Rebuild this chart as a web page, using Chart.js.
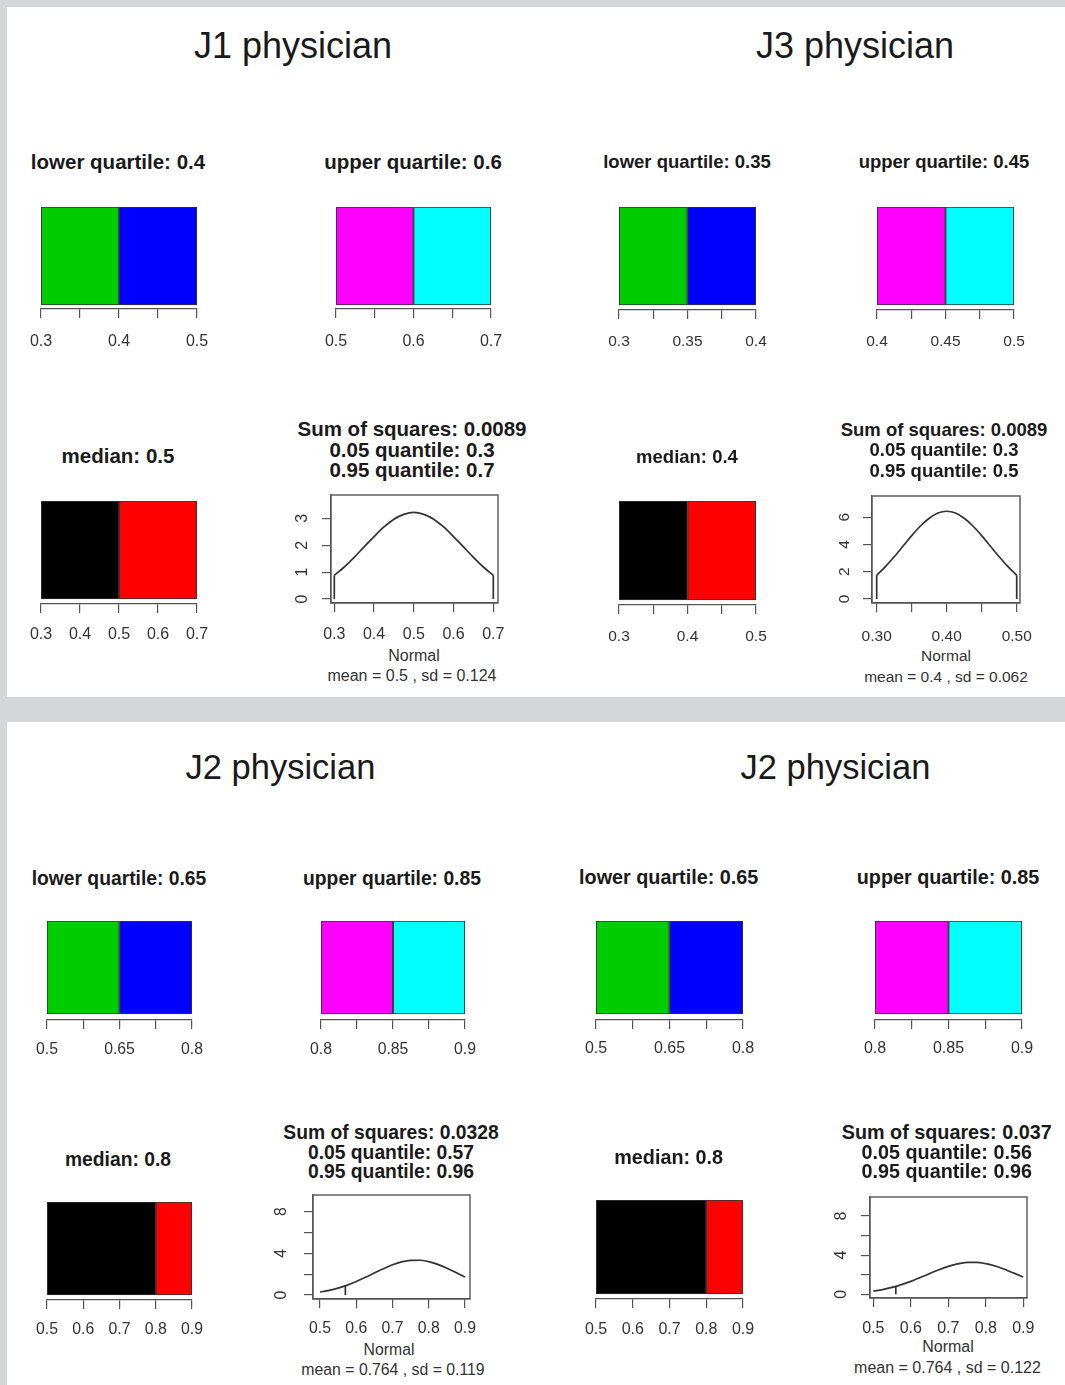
<!DOCTYPE html>
<html>
<head>
<meta charset="utf-8">
<script src="https://cdn.jsdelivr.net/npm/chart.js@4.4.1/dist/chart.umd.min.js"></script>
<style>
html, body { margin: 0; padding: 0; }
body { width: 1065px; height: 1385px; background: #d5d6d8; position: relative; overflow: hidden;
       font-family: 'Liberation Sans', Arial, Helvetica, sans-serif; }
.panel { position: absolute; background: #ffffff; }
.t { position: absolute; white-space: nowrap; text-align: center; line-height: 1; width: 600px; }
canvas { position: absolute; }
</style>
</head>
<body>
<div class="panel" style="left:7px;top:7px;width:1058px;height:690px"></div>
<div class="panel" style="left:7px;top:722px;width:1058px;height:663px"></div>
<script>
// ---------------- DATA ----------------
const physicians     = ['J1 physician', 'J3 physician', 'J2 physician', 'J2 physician'];
const lowerQuartile  = [0.4, 0.35, 0.65, 0.65];
const upperQuartile  = [0.6, 0.45, 0.85, 0.85];
const medians        = [0.5, 0.4, 0.8, 0.8];
const sumOfSquares   = ['0.0089', '0.0089', '0.0328', '0.037'];
const quantile05     = [0.3, 0.3, 0.57, 0.56];
const quantile95     = [0.7, 0.5, 0.96, 0.96];
const fitMeans       = ['0.5', '0.4', '0.764', '0.764'];
const fitSds         = ['0.124', '0.062', '0.119', '0.122'];

// bar segments: [start, split, end]
const lowerSegments  = [[0.3, 0.4, 0.5], [0.3, 0.35, 0.4], [0.5, 0.65, 0.8], [0.5, 0.65, 0.8]];
const upperSegments  = [[0.5, 0.6, 0.7], [0.4, 0.45, 0.5], [0.8, 0.85, 0.9], [0.8, 0.85, 0.9]];
const medianSegments = [[0.3, 0.5, 0.7], [0.3, 0.4, 0.5], [0.5, 0.8, 0.9], [0.5, 0.8, 0.9]];

// tick values / labels
const lowerTicks  = [[0.3, 0.35, 0.4, 0.45, 0.5], [0.3, 0.325, 0.35, 0.375, 0.4], [0.5, 0.575, 0.65, 0.725, 0.8], [0.5, 0.575, 0.65, 0.725, 0.8]];
const lowerLabels = [['0.3', '', '0.4', '', '0.5'], ['0.3', '', '0.35', '', '0.4'], ['0.5', '', '0.65', '', '0.8'], ['0.5', '', '0.65', '', '0.8']];
const upperTicks  = [[0.5, 0.55, 0.6, 0.65, 0.7], [0.4, 0.425, 0.45, 0.475, 0.5], [0.8, 0.825, 0.85, 0.875, 0.9], [0.8, 0.825, 0.85, 0.875, 0.9]];
const upperLabels = [['0.5', '', '0.6', '', '0.7'], ['0.4', '', '0.45', '', '0.5'], ['0.8', '', '0.85', '', '0.9'], ['0.8', '', '0.85', '', '0.9']];
const medianTicks  = [[0.3, 0.4, 0.5, 0.6, 0.7], [0.3, 0.35, 0.4, 0.45, 0.5], [0.5, 0.6, 0.7, 0.8, 0.9], [0.5, 0.6, 0.7, 0.8, 0.9]];
const medianLabels = [['0.3', '0.4', '0.5', '0.6', '0.7'], ['0.3', '', '0.4', '', '0.5'], ['0.5', '0.6', '0.7', '0.8', '0.9'], ['0.5', '0.6', '0.7', '0.8', '0.9']];
const densXTicks  = [[0.3, 0.4, 0.5, 0.6, 0.7], [0.3, 0.35, 0.4, 0.45, 0.5], [0.5, 0.6, 0.7, 0.8, 0.9], [0.5, 0.6, 0.7, 0.8, 0.9]];
const densXLabels = [['0.3', '0.4', '0.5', '0.6', '0.7'], ['0.30', '', '0.40', '', '0.50'], ['0.5', '0.6', '0.7', '0.8', '0.9'], ['0.5', '0.6', '0.7', '0.8', '0.9']];
const densYTicks  = [[0, 1, 2, 3], [0, 2, 4, 6], [0, 2, 4, 6, 8], [0, 2, 4, 6, 8]];
const densYLabels = [['0', '1', '2', '3'], ['0', '2', '4', '6'], ['0', '', '4', '', '8'], ['0', '', '4', '', '8']];

// fitted density curves
const densJ1x  = [0.3, 0.325, 0.35, 0.375, 0.4, 0.425, 0.45, 0.475, 0.5, 0.525, 0.55, 0.575, 0.6, 0.625, 0.65, 0.675, 0.7];
const densJ1y  = [0.88, 1.19, 1.55, 1.94, 2.32, 2.68, 2.97, 3.15, 3.22, 3.15, 2.97, 2.68, 2.32, 1.94, 1.55, 1.19, 0.88];
const densJ3x  = [0.3, 0.3125, 0.325, 0.3375, 0.35, 0.3625, 0.375, 0.3875, 0.4, 0.4125, 0.425, 0.4375, 0.45, 0.4625, 0.475, 0.4875, 0.5];
const densJ3y  = [1.75, 2.38, 3.10, 3.87, 4.65, 5.36, 5.93, 6.31, 6.44, 6.31, 5.93, 5.36, 4.65, 3.87, 3.10, 2.38, 1.75];
const densJ2ax = [0.5, 0.525, 0.55, 0.575, 0.6, 0.625, 0.65, 0.675, 0.7, 0.725, 0.75, 0.775, 0.8, 0.825, 0.85, 0.875, 0.9];
const densJ2ay = [0.29, 0.45, 0.67, 0.95, 1.30, 1.70, 2.12, 2.53, 2.90, 3.18, 3.33, 3.34, 3.20, 2.94, 2.58, 2.17, 1.74];
const densJ2bx = [0.5, 0.525, 0.55, 0.575, 0.6, 0.625, 0.65, 0.675, 0.7, 0.725, 0.75, 0.775, 0.8, 0.825, 0.85, 0.875, 0.9];
const densJ2by = [0.32, 0.48, 0.70, 0.99, 1.32, 1.71, 2.11, 2.51, 2.85, 3.11, 3.25, 3.26, 3.13, 2.89, 2.55, 2.16, 1.76];
const densX = [densJ1x, densJ3x, densJ2ax, densJ2bx];
const densY = [densJ1y, densJ3y, densJ2ay, densJ2by];
// quantile marker segments (x position, density height) visible in each plot
const markerX = [[0.3, 0.7], [0.3, 0.5], [0.57], [0.56]];
const markerY = [[0.88, 0.88], [1.75, 1.75], [0.89], [0.81]];

const lowerColors  = ['#00CD00', '#0000FF'];
const upperColors  = ['#FF00FF', '#00FFFF'];
const medianColors = ['#000000', '#FF0000'];

// ---------------- LAYOUT (page pixels) ----------------
const LAYOUT = [
  { big: {cx: 293, base: 58, fs: 36}, subFs: 20.5, tickFs: 16,
    lq: {cx: 118, base: 169, box: [41, 207, 197, 305], axisY: 309, labBase: 346.5},
    uq: {cx: 413, base: 169, box: [336, 207, 491, 305], axisY: 309, labBase: 346.5},
    md: {cx: 118, base: 463.5, box: [41, 501, 197, 599], axisY: 604, labBase: 640},
    ss: {cx: 412, bases: [436.5, 457, 477.5]},
    nm: {frame: [331, 495, 498, 603], xr: [0.2917, 0.7118], yr: [-0.15, 3.87], xlabBase: 640, ylabCx: 302.7,
         normal: {cx: 414, base: 661.5}, mean: {cx: 412, base: 682}} },
  { big: {cx: 855, base: 58, fs: 36}, subFs: 18.5, tickFs: 15.5,
    lq: {cx: 687, base: 169, box: [619, 207, 756, 305], axisY: 310, labBase: 346.7},
    uq: {cx: 944, base: 169, box: [877, 207, 1014, 305], axisY: 310, labBase: 346.7},
    md: {cx: 687, base: 464, box: [619, 501, 756, 600], axisY: 605, labBase: 641.7},
    ss: {cx: 944, bases: [436.5, 457, 477.5]},
    nm: {frame: [872, 496, 1020, 603], xr: [0.2933, 0.5047], yr: [-0.29, 7.56], xlabBase: 641.5, ylabCx: 845,
         normal: {cx: 946, base: 661.5}, mean: {cx: 946, base: 682}} },
  { big: {cx: 280.5, base: 779, fs: 34.5}, subFs: 19.3, tickFs: 15.8,
    lq: {cx: 119, base: 885, box: [47, 921, 192, 1014], axisY: 1020, labBase: 1054.3},
    uq: {cx: 392, base: 885, box: [321, 921, 465, 1014], axisY: 1020, labBase: 1054.3},
    md: {cx: 118, base: 1166, box: [47, 1202, 192, 1295], axisY: 1300, labBase: 1335},
    ss: {cx: 391, bases: [1139.5, 1159, 1178.5]},
    nm: {frame: [313, 1195, 470, 1299], xr: [0.4807, 0.9138], yr: [-0.38, 9.6], xlabBase: 1334, ylabCx: 281.7,
         normal: {cx: 389, base: 1355}, mean: {cx: 393, base: 1375}} },
  { big: {cx: 835.5, base: 779, fs: 34.5}, subFs: 19.8, tickFs: 16,
    lq: {cx: 668.7, base: 885, box: [596, 921, 743, 1014], axisY: 1020, labBase: 1054},
    uq: {cx: 948, base: 885, box: [875, 921, 1022, 1014], axisY: 1020, labBase: 1054},
    md: {cx: 668.7, base: 1165, box: [596, 1200, 743, 1294], axisY: 1299, labBase: 1334.3},
    ss: {cx: 946.7, bases: [1140, 1159.3, 1178.3]},
    nm: {frame: [870, 1197, 1027, 1298], xr: [0.4912, 0.9099], yr: [-0.38, 9.94], xlabBase: 1334, ylabCx: 841.7,
         normal: {cx: 948, base: 1352.5}, mean: {cx: 947.5, base: 1373.5}} }
];

const FONT = "'Liberation Sans', Arial, Helvetica, sans-serif";
const TICK_COLOR = '#333';
const AXIS_COLOR = '#555';

function addText(str, cx, base, fs, bold, color) {
  const d = document.createElement('div');
  d.className = 't';
  d.textContent = str;
  d.style.fontSize = fs + 'px';
  d.style.fontWeight = bold ? 'bold' : 'normal';
  d.style.color = color;
  d.style.left = (cx - 300) + 'px';
  d.style.top = (base - 0.8465 * fs) + 'px';
  document.body.appendChild(d);
}

function makeCanvas(left, top, w, h) {
  const cv = document.createElement('canvas');
  cv.width = w; cv.height = h;
  cv.style.left = left + 'px'; cv.style.top = top + 'px';
  cv.style.width = w + 'px'; cv.style.height = h + 'px';
  document.body.appendChild(cv);
  return cv;
}

function barChart(cfg, segs, colors, ticks, labels, fs) {
  const [x0, y0, x1, y1] = cfg.box;
  const padL = 36, padR = 36, padT = 2, axisH = 52, tl = 9;
  const boxH = y1 - y0, gap = cfg.axisY - y1;
  const W = (x1 - x0) + padL + padR, H = padT + boxH + gap + axisH;
  const cv = makeCanvas(x0 - padL, y0 - padT, W, H);
  const pad = cfg.labBase - cfg.axisY - tl - 0.91 * fs;
  const common = {grouped: false, barThickness: boxH, borderColor: '#333', borderWidth: 1.2, borderSkipped: false};
  new Chart(cv, {
    type: 'bar',
    data: { datasets: [
      Object.assign({data: [{x: [segs[0], segs[1]], y: 0}], backgroundColor: colors[0]}, common),
      Object.assign({data: [{x: [segs[1], segs[2]], y: 0}], backgroundColor: colors[1]}, common)
    ]},
    options: {
      indexAxis: 'y', responsive: false, animation: false, events: [],
      layout: {padding: {left: padL, right: padR, top: padT, bottom: 0}},
      plugins: {legend: {display: false}, tooltip: {enabled: false}},
      scales: {
        x: { type: 'linear', min: ticks[0], max: ticks[ticks.length - 1],
             afterBuildTicks: s => { s.ticks = ticks.map(v => ({value: v})); },
             afterFit: s => { s.height = axisH; },
             ticks: { callback: (v, i) => labels[i], autoSkip: false, maxRotation: 0, minRotation: 0,
                      padding: pad, color: TICK_COLOR, font: {family: FONT, size: fs} },
             grid: { drawOnChartArea: false, drawTicks: true, tickLength: tl, color: AXIS_COLOR, lineWidth: 1.2 },
             border: { display: true, color: AXIS_COLOR, width: 1.2 } },
        y: { type: 'linear', display: false, offset: false, min: -0.5 - gap / boxH, max: 0.5 }
      }
    }
  });
}

const framePlugin = {
  id: 'frame',
  afterDatasetsDraw(chart) {
    const {ctx, chartArea: a} = chart;
    ctx.save();
    ctx.strokeStyle = '#555';
    ctx.lineWidth = 1.4;
    ctx.strokeRect(a.left, a.top, a.right - a.left, a.bottom - a.top);
    ctx.restore();
  }
};

function densityChart(cfg, xs, ys, mxs, mys, xt, xl, yt, yl, fs) {
  const [x0, y0, x1, y1] = cfg.frame;
  const yAxisW = 50, padT = 30, padR = 30, axisH = 52, tl = 9;
  const W = yAxisW + (x1 - x0) + padR, H = padT + (y1 - y0) + axisH;
  const cv = makeCanvas(x0 - yAxisW, y0 - padT, W, H);
  const xpad = cfg.xlabBase - y1 - tl - 0.91 * fs;
  const ypad = (x0 - cfg.ylabCx) - tl - 0.556 * fs / 2;
  const datasets = [{
    data: xs.map((x, i) => ({x: x, y: ys[i]})), showLine: true, pointRadius: 0,
    borderColor: '#333', borderWidth: 1.7, cubicInterpolationMode: 'monotone'
  }];
  mxs.forEach((mx, i) => datasets.push({
    data: [{x: mx, y: 0}, {x: mx, y: mys[i]}], showLine: true, pointRadius: 0,
    borderColor: '#333', borderWidth: 1.7
  }));
  new Chart(cv, {
    type: 'scatter',
    data: { datasets },
    plugins: [framePlugin],
    options: {
      responsive: false, animation: false, events: [],
      layout: {padding: {left: 0, right: padR, top: padT, bottom: 0}},
      plugins: {legend: {display: false}, tooltip: {enabled: false}},
      scales: {
        x: { type: 'linear', min: cfg.xr[0], max: cfg.xr[1],
             afterBuildTicks: s => { s.ticks = xt.map(v => ({value: v})); },
             afterFit: s => { s.height = axisH; },
             ticks: { callback: (v, i) => xl[i], autoSkip: false, maxRotation: 0, minRotation: 0,
                      padding: xpad, color: TICK_COLOR, font: {family: FONT, size: fs} },
             grid: { drawOnChartArea: false, drawTicks: true, tickLength: tl, color: AXIS_COLOR, lineWidth: 1.2 },
             border: { display: true, color: AXIS_COLOR, width: 1.2 } },
        y: { type: 'linear', position: 'left', min: cfg.yr[0], max: cfg.yr[1],
             afterBuildTicks: s => { s.ticks = yt.map(v => ({value: v})); },
             afterFit: s => { s.width = yAxisW; },
             ticks: { callback: (v, i) => yl[i], autoSkip: false, minRotation: 90, maxRotation: 90,
                      crossAlign: 'center', padding: ypad, color: TICK_COLOR, font: {family: FONT, size: fs} },
             grid: { drawOnChartArea: false, drawTicks: true, tickLength: tl, color: AXIS_COLOR, lineWidth: 1.2 },
             border: { display: true, color: AXIS_COLOR, width: 1.2 } }
      }
    }
  });
}

for (let i = 0; i < 4; i++) {
  const L = LAYOUT[i];
  const TITLE = '#1a1a1a';
  addText(physicians[i], L.big.cx, L.big.base, L.big.fs, false, '#1a1a1a');
  addText('lower quartile: ' + lowerQuartile[i], L.lq.cx, L.lq.base, L.subFs, true, TITLE);
  addText('upper quartile: ' + upperQuartile[i], L.uq.cx, L.uq.base, L.subFs, true, TITLE);
  addText('median: ' + medians[i], L.md.cx, L.md.base, L.subFs, true, TITLE);
  addText('Sum of squares: ' + sumOfSquares[i], L.ss.cx, L.ss.bases[0], L.subFs, true, TITLE);
  addText('0.05 quantile: ' + quantile05[i], L.ss.cx, L.ss.bases[1], L.subFs, true, TITLE);
  addText('0.95 quantile: ' + quantile95[i], L.ss.cx, L.ss.bases[2], L.subFs, true, TITLE);
  addText('Normal', L.nm.normal.cx, L.nm.normal.base, L.tickFs, false, '#333');
  addText('mean = ' + fitMeans[i] + ' , sd = ' + fitSds[i], L.nm.mean.cx, L.nm.mean.base, L.tickFs, false, '#333');

  barChart(L.lq, lowerSegments[i], lowerColors, lowerTicks[i], lowerLabels[i], L.tickFs);
  barChart(L.uq, upperSegments[i], upperColors, upperTicks[i], upperLabels[i], L.tickFs);
  barChart(L.md, medianSegments[i], medianColors, medianTicks[i], medianLabels[i], L.tickFs);
  densityChart(L.nm, densX[i], densY[i], markerX[i], markerY[i],
               densXTicks[i], densXLabels[i], densYTicks[i], densYLabels[i], L.tickFs);
}
</script>
</body>
</html>
